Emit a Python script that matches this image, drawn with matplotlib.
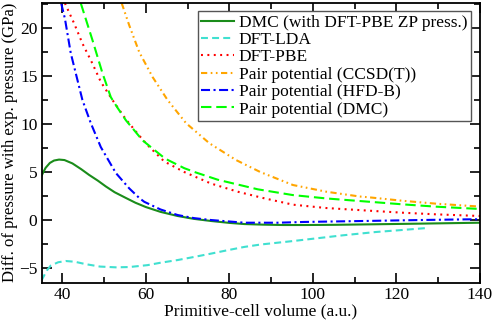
import matplotlib
matplotlib.use("Agg")
import matplotlib.pyplot as plt
from matplotlib.ticker import MultipleLocator

plt.rcParams['font.family'] = ['Liberation Serif', 'DejaVu Serif']
plt.rcParams['lines.scale_dashes'] = False

# DMC (with DFT-PBE ZP press.)
dmc_x = [35, 35.5, 36, 37, 38, 39.2, 40.5, 42.4, 44.5, 46.4, 48.5, 50.4, 52.5, 55.2, 57.5, 60,
         63.5, 67.6, 71.5, 75.6, 80, 83.6, 88, 93, 98, 105, 113.6, 125, 140]
dmc_y = [4.6, 5.05, 5.45, 5.95, 6.2, 6.3, 6.25, 5.9, 5.3, 4.7, 4.1, 3.5, 2.9, 2.3, 1.8, 1.35,
         0.85, 0.42, 0.12, -0.1, -0.3, -0.42, -0.48, -0.52, -0.52, -0.5, -0.45, -0.38, -0.28]

# DFT-LDA
lda_x = [35, 35.6, 36.3, 37.2, 39, 40.8, 43, 45.6, 49, 52.8, 56, 60.4, 63.5, 67.6, 71.5, 75.6,
         79.5, 83.6, 87.5, 91.6, 95, 98, 102, 107, 115, 121, 126.8]
lda_y = [-6.3, -5.8, -5.25, -4.75, -4.4, -4.27, -4.35, -4.6, -4.85, -4.93, -4.9, -4.7, -4.45,
         -4.17, -3.85, -3.5, -3.15, -2.8, -2.55, -2.36, -2.2, -2.05, -1.85, -1.6, -1.25,
         -1.05, -0.85]

# DFT-PBE
pbe_x = [40.6, 42.8, 44.8, 47.2, 49.2, 52, 55.2, 58.4, 60.4, 64.4, 69.2, 75.6, 82, 88,
         95.2, 103.2, 113.6, 121.6, 129.6, 140]
pbe_y = [22.6, 20.5, 18.4, 16.3, 14.4, 12.5, 10.5, 8.8, 7.8, 6.1, 5.0, 3.8, 2.95, 2.3,
         1.6, 1.25, 0.97, 0.76, 0.59, 0.42]

# Pair potential (CCSD(T))
ccsd_x = [54.2, 56, 58.4, 61.6, 65.2, 69.6, 75.2, 81.6, 87.4, 95.2, 103.2, 111.2,
          113.6, 121.6, 129.6, 140]
ccsd_y = [22.6, 20.3, 17.5, 14.9, 12.5, 10.1, 8.0, 6.25, 5.0, 3.65, 2.95, 2.45,
          2.36, 2.0, 1.7, 1.4]

# Pair potential (HFD-B)
hfd_x = [39.7, 40.6, 42, 43.6, 44.8, 46.8, 49.2, 52.8, 56, 58.4, 59.6, 63.5, 67.6,
         71.5, 75.6, 83.6, 91.6, 98, 105, 115, 125.6, 136.8, 140]
hfd_y = [22.6, 21.0, 17.4, 14.6, 12.5, 10.1, 7.6, 4.9, 3.3, 2.3, 1.9, 1.1, 0.52,
         0.2, 0.0, -0.28, -0.28, -0.2, -0.15, -0.08, 0.0, 0.07, 0.08]

# Pair potential (DMC)
pdmc_x = [44.4, 47.2, 49.6, 51.6, 53.2, 55.2, 59.2, 64.6, 69.2, 72, 77.2, 86.8, 95.2,
          103.2, 113.6, 121.6, 129.6, 140]
pdmc_y = [22.6, 18.75, 15.3, 12.8, 11.7, 10.4, 8.3, 6.4, 5.4, 4.95, 4.2, 3.2, 2.6,
          2.25, 1.9, 1.63, 1.39, 1.15]

fig = plt.figure(figsize=(4.96, 3.2), dpi=100)
ax = fig.add_axes([0.0837, 0.116, 0.884, 0.8756])

fs = 12.5
lw = 1.5
ax.plot(dmc_x, dmc_y, color='#1a8c1a', lw=lw, label='DMC (with DFT-PBE ZP press.)')
ax.plot(lda_x, lda_y, color='#40E0D0', lw=lw, dashes=(5, 3), label='DFT-LDA')
ax.plot(pbe_x, pbe_y, color='#FF0000', lw=lw, dashes=(1.4, 3.2), label='DFT-PBE')
ax.plot(ccsd_x, ccsd_y, color='#FFA500', lw=lw, dashes=(4.5, 2.5, 1.2, 2.5, 1.2, 2.5),
        label='Pair potential (CCSD(T))')
ax.plot(hfd_x, hfd_y, color='#0000FF', lw=lw, dashes=(6.5, 2.5, 1.5, 2.5),
        label='Pair potential (HFD-B)')
ax.plot(pdmc_x, pdmc_y, color='#00FF00', lw=lw, dashes=(7.5, 3.5),
        label='Pair potential (DMC)')

ax.set_xlim(35, 140)
ax.set_ylim(-6.55, 22.65)
ax.xaxis.set_major_locator(MultipleLocator(20))
ax.xaxis.set_minor_locator(MultipleLocator(10))
ax.yaxis.set_major_locator(MultipleLocator(5))
ax.yaxis.set_minor_locator(MultipleLocator(2.5))
ax.tick_params(which='both', direction='in', top=True, right=True, labelsize=fs, width=1.2)
ax.tick_params(which='major', length=7, pad=3)
ax.tick_params(which='minor', length=4)
for s in ax.spines.values():
    s.set_linewidth(1.3)

ax.set_xlabel('Primitive-cell volume (a.u.)', fontsize=fs, labelpad=0.5)
ax.set_ylabel('Diff. of pressure with exp. pressure (GPa)', fontsize=12, labelpad=1)

leg = ax.legend(loc='upper right', bbox_to_anchor=(0.979, 0.97), fontsize=fs,
                frameon=True, fancybox=False, framealpha=1, edgecolor='#555555',
                handlelength=1.9, handletextpad=0.25, labelspacing=0.07,
                borderpad=0.2, borderaxespad=0)
leg.get_frame().set_linewidth(1.0)

fig.savefig('out.png', dpi=100)
